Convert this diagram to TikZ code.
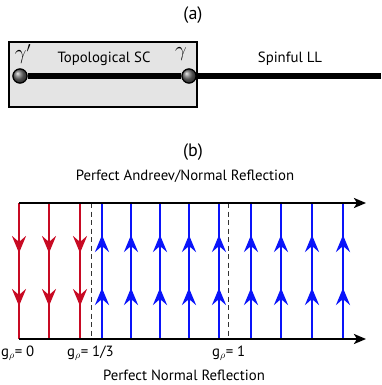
\documentclass[tikz,border=0pt]{standalone}
\usepackage{fontspec}
\setmainfont{PT Sans}
\usetikzlibrary{arrows.meta}
\definecolor{sred}{RGB}{200,10,35}
\definecolor{sblue}{RGB}{10,20,250}
\definecolor{boxgray}{RGB}{228,228,228}
\tikzset{
  lbl/.style={inner sep=0pt, font=\fontsize{14.8}{16}\selectfont},
  title/.style={inner sep=0pt, font=\fontsize{18}{20}\selectfont},
  gam/.style={inner sep=0pt, font=\fontsize{20}{22}\selectfont},
  axis/.style={line width=2.6pt, -{Stealth[length=12pt,width=10pt,inset=3pt]}},
  redln/.style={line width=2.7pt, sred},
  blueln/.style={line width=2.7pt, sblue},
  redtip/.style={line width=2.7pt, sred, -{Stealth[length=17pt,width=14pt,inset=6pt]}},
  bluetip/.style={line width=2.7pt, sblue, -{Stealth[length=17pt,width=14pt,inset=6pt]}},
  sep/.style={line width=0.9pt, dash pattern=on 5pt off 3.5pt, black!80},
  ball/.style={circle, minimum size=14pt, inner sep=0pt, shading=ball, ball color=gray!85!black, draw=black, line width=1.1pt},
}
\begin{document}
\begin{tikzpicture}[x=1pt,y=-1pt]
\useasboundingbox (0,0) rectangle (381,385);
% panel (a)
\node[title] (ta) at (193,15) {(a)};
\draw[line width=1.6pt, fill=boxgray] (9,42) rectangle (197,107);
\coordinate (wireend) at (381,76);
\node[ball] (g1) at (20,76) {};
\node[ball] (g2) at (189,76) {};
\draw[line width=5.5pt] (g1) -- (g2);
\draw[line width=5.5pt] (g2) -- (wireend);
\node[ball] at (20,76) {};
\node[ball] at (189,76) {};
\node[gam] (gp) at (23,54) {$\gamma'$};
\node[gam] (gg) at (181,54) {$\gamma$};
\node[lbl] (tsc) at (104,59) {Topological SC};
\node[lbl] (sll) at (290,59) {Spinful LL};
% panel (b)
\node[title] (tb) at (193,152) {(b)};
\node[lbl] (pan) at (185,176) {Perfect Andreev/Normal Reflection};
\node[lbl] (pnr) at (184,375) {Perfect Normal Reflection};
\coordinate (tl) at (19,203);
\coordinate (tr) at (366,203);
\coordinate (bl) at (19,339);
\coordinate (br) at (366,339);
% dashed separators
\draw[sep] (91,203) -- (91,339);
\draw[sep] (228,203) -- (228,339);
% red lines
\foreach \x in {19,49,80}{
  \draw[redln] (\x,203) -- (\x,339);
  \draw[redtip] (\x,230) -- (\x,253);
  \draw[redtip] (\x,283) -- (\x,306);
}
% blue lines
\foreach \x in {102,131,160,189,219,251,281,312,343}{
  \draw[blueln] (\x,203) -- (\x,339);
  \draw[bluetip] (\x,258) -- (\x,235);
  \draw[bluetip] (\x,311) -- (\x,288);
}
\draw[axis] (tl) -- (tr);
\draw[axis] (bl) -- (br);
% labels
\node[lbl, anchor=west] (g0) at (1,353) {g$_\rho$= 0};
\node[lbl, anchor=west] (g13) at (67,353) {g$_\rho$= 1/3};
\node[lbl, anchor=west] (g1l) at (212,353) {g$_\rho$= 1};
\end{tikzpicture}
\end{document}
